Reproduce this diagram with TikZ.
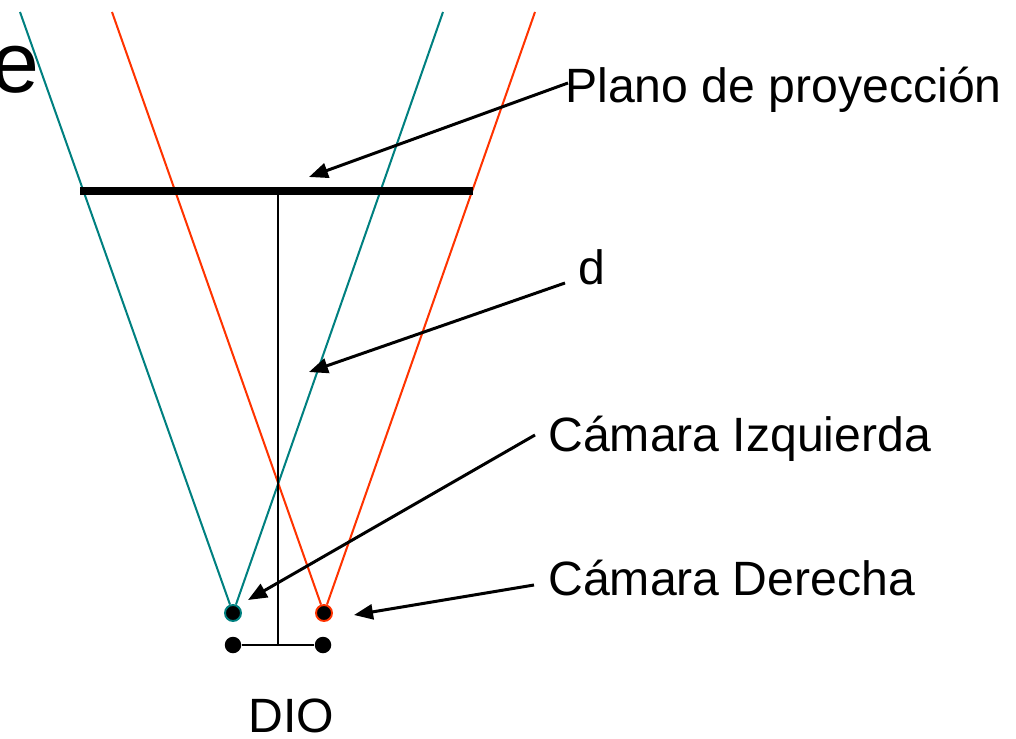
\documentclass[tikz,border=0pt]{standalone}
\usepackage{fontspec}
\setmainfont{Liberation Sans}
\usetikzlibrary{arrows.meta}
\definecolor{rayteal}{RGB}{0,128,128}
\definecolor{rayred}{RGB}{255,51,0}

\begin{document}
\begin{tikzpicture}[font=\fontsize{27.4}{33}\selectfont,
  lbl/.style={anchor=base west, inner sep=0pt},
  cam/.style={circle, fill=black, inner sep=0pt, minimum size=0.32cm, line width=1.1pt},
  eye/.style={circle, fill=black, inner sep=0pt, minimum size=0.33cm},
  ray/.style={line width=1.15pt},
  ptr/.style={-{Triangle[length=0.38cm,width=0.3cm]}, line width=1.7pt}]
\useasboundingbox (0,0) rectangle (20.32,-14.78);

% the two cameras and their rays
\node[cam, draw=rayteal] (camL) at (4.66,-12.26) {};
\node[cam, draw=rayred] (camR) at (6.48,-12.26) {};
\coordinate (tL1) at (0.40,-0.24);
\coordinate (tL2) at (8.86,-0.24);
\coordinate (tR1) at (2.24,-0.24);
\coordinate (tR2) at (10.70,-0.24);
\draw[ray, rayteal] (camL) -- (tL1) (camL) -- (tL2);
\draw[ray, rayred] (camR) -- (tR1) (camR) -- (tR2);

% projection plane, distance d and the DIO bar
\coordinate (pl) at (1.60,-3.82);
\coordinate (pr) at (9.46,-3.82);
\coordinate (pm) at (5.56,-3.82);
\coordinate (dm) at (5.56,-12.90);
\draw[line width=4.5pt] (pl) -- (pr);
\draw[ray] (pm) -- (dm);
\node[eye] (dioL) at (4.66,-12.90) {};
\node[eye] (dioR) at (6.46,-12.90) {};
\draw[ray] (dioL) -- (dioR);
\node[anchor=base, inner sep=0pt] (dio) at (5.83,-14.64) {DIO};

% labels
\node[lbl, font=\fontsize{49}{58}\selectfont] (e) at (-0.17,-1.84) {e};
\node[lbl] (plano) at (11.30,-2.04) {Plano de proyección};
\node[lbl] (dist) at (11.56,-5.68) {d};
\node[lbl] (izq) at (10.96,-9.02) {Cámara Izquierda};
\node[lbl] (der) at (10.96,-11.90) {Cámara Derecha};

% pointers
\coordinate (tipPlano) at (6.18,-3.54);
\coordinate (tipDist) at (6.18,-7.44);
\coordinate (tipIzq) at (4.96,-12.00);
\coordinate (tipDer) at (7.08,-12.30);
\draw[ptr] ([shift={(0.06,0.38)}]plano.base west) -- (tipPlano);
\draw[ptr] ([shift={(-0.26,0.02)}]dist.base west) -- (tipDist);
\draw[ptr] ([shift={(-0.26,0.32)}]izq.base west) -- (tipIzq);
\draw[ptr] ([shift={(-0.28,0.20)}]der.base west) -- (tipDer);
\end{tikzpicture}
\end{document}
